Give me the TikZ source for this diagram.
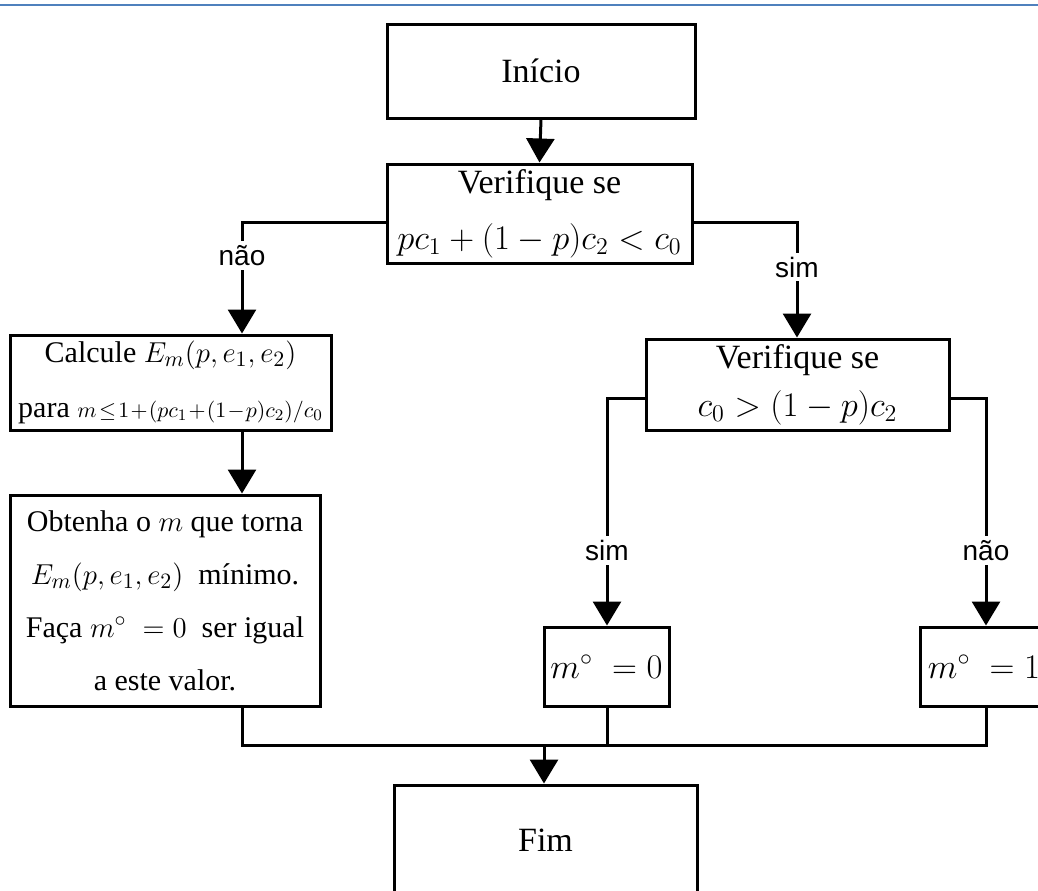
\documentclass[tikz,border=0pt]{standalone}
\usepackage{fontspec}
\setmainfont{Liberation Serif}
\setsansfont{Liberation Sans}
\definecolor{linhaTopo}{RGB}{79,129,189}
\usetikzlibrary{arrows.meta, positioning, calc}

\begin{document}
\begin{tikzpicture}[x=0.5pt, y=-0.5pt,
  box/.style={rectangle, draw, line width=1.5pt, align=center,
              font=\fontsize{17}{24}\selectfont, inner sep=0pt},
  pequena/.style={font=\fontsize{15}{26.5}\selectfont},
  arr/.style={-{Triangle[width=14pt,length=12pt]}, line width=1.5pt},
  lin/.style={line width=1.5pt},
  lbl/.style={font=\sffamily\fontsize{14}{16}\selectfont, fill=white, inner sep=2pt}
]
  \useasboundingbox (0,0) rectangle (1038,890);
  \draw[line width=1.3pt, color=linhaTopo] (0,5) -- (1038,5);

  % caixas
  \node[box, minimum width=154pt, minimum height=47pt] (inicio) at (541,71) {Início};
  \node[box, minimum width=152.5pt, minimum height=49.5pt] (ver1) at (539.5,213.5)
    {Verifique se\\[4pt] $pc_1 + (1-p)c_2 < c_0$};
  \node[box, pequena, minimum width=160.5pt, minimum height=47.5pt] (calc) at (170.5,382.5)
    {Calcule $E_m(p,e_1,e_2)$\\[1pt] para {\fontsize{10.8}{12}\selectfont\medmuskip=1mu\thickmuskip=2mu
     $m \le 1+(pc_1+(1-p)c_2)/c_0$}};
  \node[box, pequena, minimum width=155pt, minimum height=105.5pt] (obt) at (165,600.5)
    {Obtenha o $m$ que torna\\ $E_m(p,e_1,e_2)$ \ mínimo.\\ Faça $m^{\circ}\;=0$ \ ser igual\\ a este valor.};
  \node[box, minimum width=151.5pt, minimum height=45.5pt] (ver2) at (797.5,384.5)
    {Verifique se\\ $c_0 > (1-p)c_2$};
  \node[box, minimum width=62.5pt, minimum height=39.5pt] (m0) at (606.5,666.5) {$m^{\circ}\;=0$};
  \node[box, minimum width=64pt, minimum height=39.5pt] (m1) at (984,666.5) {$m^{\circ}\;=1$};
  \node[box, minimum width=151.5pt, minimum height=55pt] (fim) at (545.5,840) {Fim};

  % pontos de dobra
  \coordinate (dobraE) at (242,222);
  \coordinate (dobraD) at (797,222);
  \coordinate (dobraE2) at (607,398);
  \coordinate (dobraD2) at (986,398);
  \coordinate (juncao) at (544,745);

  % ligacoes
  \draw[arr] (inicio.south) -- (ver1.north);
  \draw[arr] (ver1.west |- dobraE) -- (dobraE) -- node[lbl, pos=0.3] {não} (dobraE |- calc.north);
  \draw[arr] (ver1.east |- dobraD) -- (dobraD) -- node[lbl, pos=0.39] {sim} (dobraD |- ver2.north);
  \draw[arr] (calc.south -| dobraE) -- (obt.north -| dobraE);
  \draw[arr] (ver2.west |- dobraE2) -- (dobraE2) -- node[lbl, pos=0.67] {sim} (dobraE2 |- m0.north);
  \draw[arr] (ver2.east |- dobraD2) -- (dobraD2) -- node[lbl, pos=0.67] {não} (dobraD2 |- m1.north);
  \draw[lin] (obt.south -| dobraE) |- (dobraD2 |- juncao) -- (dobraD2 |- m1.south);
  \draw[lin] (m0.south -| dobraE2) -- (dobraE2 |- juncao);
  \draw[arr] (juncao) -- (juncao |- fim.north);
\end{tikzpicture}
\end{document}
